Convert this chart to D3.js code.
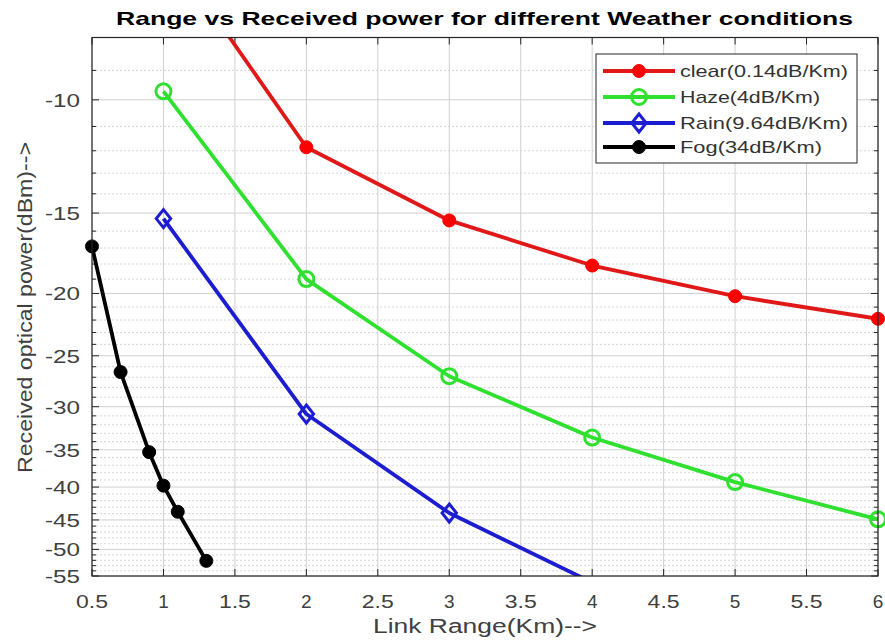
<!DOCTYPE html>
<html><head><meta charset="utf-8">
<script src="https://cdn.jsdelivr.net/npm/d3@7"></script>
<style>html,body{margin:0;padding:0;background:#fff;}svg{display:block;}text{font-family:"Liberation Sans",Arial,sans-serif;}</style>
</head><body>
<svg id="c" width="885" height="644"></svg>
<script>
// ---- data ----
const xTicks = [0.5,1,1.5,2,2.5,3,3.5,4,4.5,5,5.5,6];
const xTickLabels = ["0.5","1","1.5","2","2.5","3","3.5","4","4.5","5","5.5","6"];
const yTicks = [-10,-15,-20,-25,-30,-35,-40,-45,-50,-55];
const yTickLabels = ["-10","-15","-20","-25","-30","-35","-40","-45","-50","-55"];
const seriesNames = ["clear(0.14dB/Km)","Haze(4dB/Km)","Rain(9.64dB/Km)","Fog(34dB/Km)"];
const clearX = [1,2,3,4,5,6];
const clearY = [-5.7,-11.85,-15.4,-18.1,-20.2,-21.9];
const hazeX = [1,2,3,4,5,6];
const hazeY = [-9.7,-19.0,-26.9,-33.5,-39.3,-44.9];
const rainX = [1,2,3,4];
const rainY = [-15.3,-30.8,-43.9,-56.3];
const fogX = [0.5,0.7,0.9,1.0,1.1,1.3];
const fogY = [-16.9,-26.5,-35.3,-39.8,-43.7,-52.1];

// ---- layout ----
const L=92, R=878, T=37.5, B=576;
const svg = d3.select("#c");
const x = d3.scaleLinear().domain([0.5,6]).range([L,R]);
const yl = d3.scaleLog().domain([8,55]).range([T,B]);
const y = v => yl(-v);

// grid
const g = svg.append("g");
const minor = d3.range(9,55).filter(v=>v%5!==0);
g.selectAll(".ymin").data(minor).enter().append("line")
  .attr("x1",L).attr("x2",R).attr("y1",d=>yl(d)).attr("y2",d=>yl(d))
  .attr("stroke","#d6d6d6").attr("stroke-width",1).attr("stroke-dasharray","2,2");
g.selectAll(".ymaj").data(yTicks).enter().append("line")
  .attr("x1",L).attr("x2",R).attr("y1",d=>y(d)).attr("y2",d=>y(d))
  .attr("stroke","#d0d0d0").attr("stroke-width",1);
g.selectAll(".xmaj").data(xTicks).enter().append("line")
  .attr("y1",T).attr("y2",B).attr("x1",d=>x(d)).attr("x2",d=>x(d))
  .attr("stroke","#d0d0d0").attr("stroke-width",1);

// ticks
const tk = svg.append("g").attr("stroke","#262626").attr("stroke-width",1);
xTicks.forEach(d=>{
  tk.append("line").attr("x1",x(d)).attr("x2",x(d)).attr("y1",B).attr("y2",B-7);
  tk.append("line").attr("x1",x(d)).attr("x2",x(d)).attr("y1",T).attr("y2",T+7);
});
yTicks.forEach(d=>{
  tk.append("line").attr("x1",L).attr("x2",L+7).attr("y1",y(d)).attr("y2",y(d));
  tk.append("line").attr("x1",R).attr("x2",R-7).attr("y1",y(d)).attr("y2",y(d));
});
minor.forEach(d=>{
  tk.append("line").attr("x1",L).attr("x2",L+4).attr("y1",yl(d)).attr("y2",yl(d));
  tk.append("line").attr("x1",R).attr("x2",R-4).attr("y1",yl(d)).attr("y2",yl(d));
});

// clip
svg.append("clipPath").attr("id","pc").append("rect").attr("x",L).attr("y",T).attr("width",R-L).attr("height",B-T);
const plot = svg.append("g").attr("clip-path","url(#pc)");
const markG = svg.append("g");

const series = [
  {name:seriesNames[0], xs:clearX, ys:clearY, color:"#e01818", mk:"circle", fill:"#ff0000", mcol:"#ff0000", r:6.5},
  {name:seriesNames[1], xs:hazeX, ys:hazeY, color:"#2fe02f", mk:"ocircle", fill:"none", mcol:"#2fe02f", r:7.5},
  {name:seriesNames[2], xs:rainX, ys:rainY, color:"#1c1cd0", mk:"diamond", fill:"none", mcol:"#1c1cd0", r:9},
  {name:seriesNames[3], xs:fogX, ys:fogY, color:"#000000", mk:"circle", fill:"#000", mcol:"#000", r:6.5}
];
const line = d3.line().x(d=>x(d[0])).y(d=>y(d[1]));
function marker(sel, s, cx, cy){
  if(s.mk==="circle"){
    sel.append("circle").attr("cx",cx).attr("cy",cy).attr("r",s.r).attr("fill",s.fill).attr("stroke",s.mcol).attr("stroke-width",1);
  } else if(s.mk==="ocircle"){
    sel.append("circle").attr("cx",cx).attr("cy",cy).attr("r",s.r).attr("fill","none").attr("stroke",s.mcol).attr("stroke-width",3);
  } else {
    const r=s.r;
    sel.append("path").attr("d",`M${cx},${cy-r}L${cx+r*0.8},${cy}L${cx},${cy+r}L${cx-r*0.8},${cy}Z`)
      .attr("fill","none").attr("stroke",s.mcol).attr("stroke-width",3);
  }
}
series.forEach(s=>{
  const pts = s.xs.map((v,i)=>[v,s.ys[i]]);
  plot.append("path").attr("d",line(pts)).attr("fill","none").attr("stroke",s.color).attr("stroke-width",3.8).attr("stroke-linejoin","round");
  pts.filter(p=>{const py=y(p[1]); return py>=T && py<=B;}).forEach(p=>marker(markG,s,x(p[0]),y(p[1])));
});

// box
svg.append("rect").attr("x",L).attr("y",T).attr("width",R-L).attr("height",B-T).attr("fill","none").attr("stroke","#262626").attr("stroke-width",1.2);

// tick labels
svg.selectAll(".xl").data(xTicks).enter().append("text")
  .attr("x",d=>x(d)).attr("y",608).attr("text-anchor","middle").attr("font-size",19).attr("fill","#404040")
  .each(function(d,i){ const t=xTickLabels[i]; d3.select(this).text(t); if(t.length>1) d3.select(this).attr("textLength",32).attr("lengthAdjust","spacingAndGlyphs");});
svg.selectAll(".yl").data(yTicks).enter().append("text")
  .attr("x",80).attr("y",d=>y(d)+7).attr("text-anchor","end").attr("font-size",19).attr("fill","#404040")
  .attr("textLength",35).attr("lengthAdjust","spacingAndGlyphs")
  .text((d,i)=>yTickLabels[i]);

// title & labels
svg.append("text").attr("x",484.5).attr("y",25).attr("text-anchor","middle").attr("font-size",19).attr("font-weight","bold")
  .attr("fill","#000").attr("textLength",737).attr("lengthAdjust","spacingAndGlyphs")
  .text("Range vs Received power for different Weather conditions");
svg.append("text").attr("x",485).attr("y",633).attr("text-anchor","middle").attr("font-size",20).attr("fill","#404040")
  .attr("textLength",224).attr("lengthAdjust","spacingAndGlyphs").text("Link Range(Km)-->");
svg.append("text").attr("transform","translate(32,307.5) rotate(-90)").attr("text-anchor","middle").attr("font-size",21).attr("fill","#404040")
  .attr("textLength",331).attr("lengthAdjust","spacingAndGlyphs").text("Received optical power(dBm)-->");

// legend
const lg = svg.append("g");
lg.append("rect").attr("x",596).attr("y",54).attr("width",261).attr("height",109).attr("fill","#fff").attr("stroke","#262626").attr("stroke-width",1);
const rowsY=[71,97,123,147], tl=[168,140,168,142];
series.forEach((s,i)=>{
  lg.append("line").attr("x1",603).attr("x2",675).attr("y1",rowsY[i]).attr("y2",rowsY[i]).attr("stroke",s.color).attr("stroke-width",3.8);
  marker(lg,s,639,rowsY[i]);
  lg.append("text").attr("x",680).attr("y",rowsY[i]+6).attr("font-size",17).attr("fill","#333")
    .attr("textLength",tl[i]).attr("lengthAdjust","spacingAndGlyphs").text(s.name);
});
</script>
</body></html>
